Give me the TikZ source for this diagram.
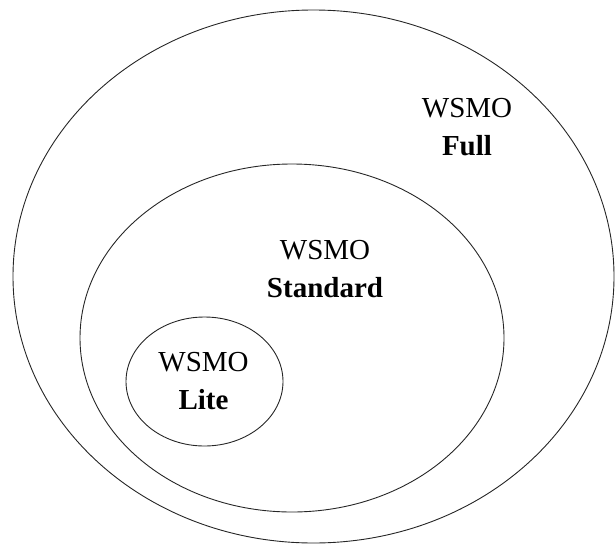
\documentclass[tikz,border=0pt]{standalone}
\usepackage{fontspec}
\setmainfont{Liberation Serif}
\usetikzlibrary{shapes.geometric}

\begin{document}
\begin{tikzpicture}[
    x=1pt, y=-1pt,
    font=\fontsize{29}{38}\selectfont,
    set/.style={draw, ellipse, line width=0.9pt, inner sep=0pt, black!85},
    lbl/.style={align=center, inner sep=0pt}
  ]
    \useasboundingbox (0,0) rectangle (615,546);
    \node[set, minimum width=601pt, minimum height=533pt] (full) at (313.5,276.5) {};
    \node[set, minimum width=424pt, minimum height=348pt] (standard) at (292,338) {};
    \node[set, minimum width=157pt, minimum height=129pt] (lite) at (204.5,381.5) {};
    \node[lbl] (fulltxt) at (467,126.6) {WSMO\\\textbf{Full}};
    \node[lbl] (standardtxt) at (325,268.6) {WSMO\\\textbf{Standard}};
    \node[lbl] (litetxt) at (203.5,380.6) {WSMO\\\textbf{Lite}};
  \end{tikzpicture}
\end{document}
